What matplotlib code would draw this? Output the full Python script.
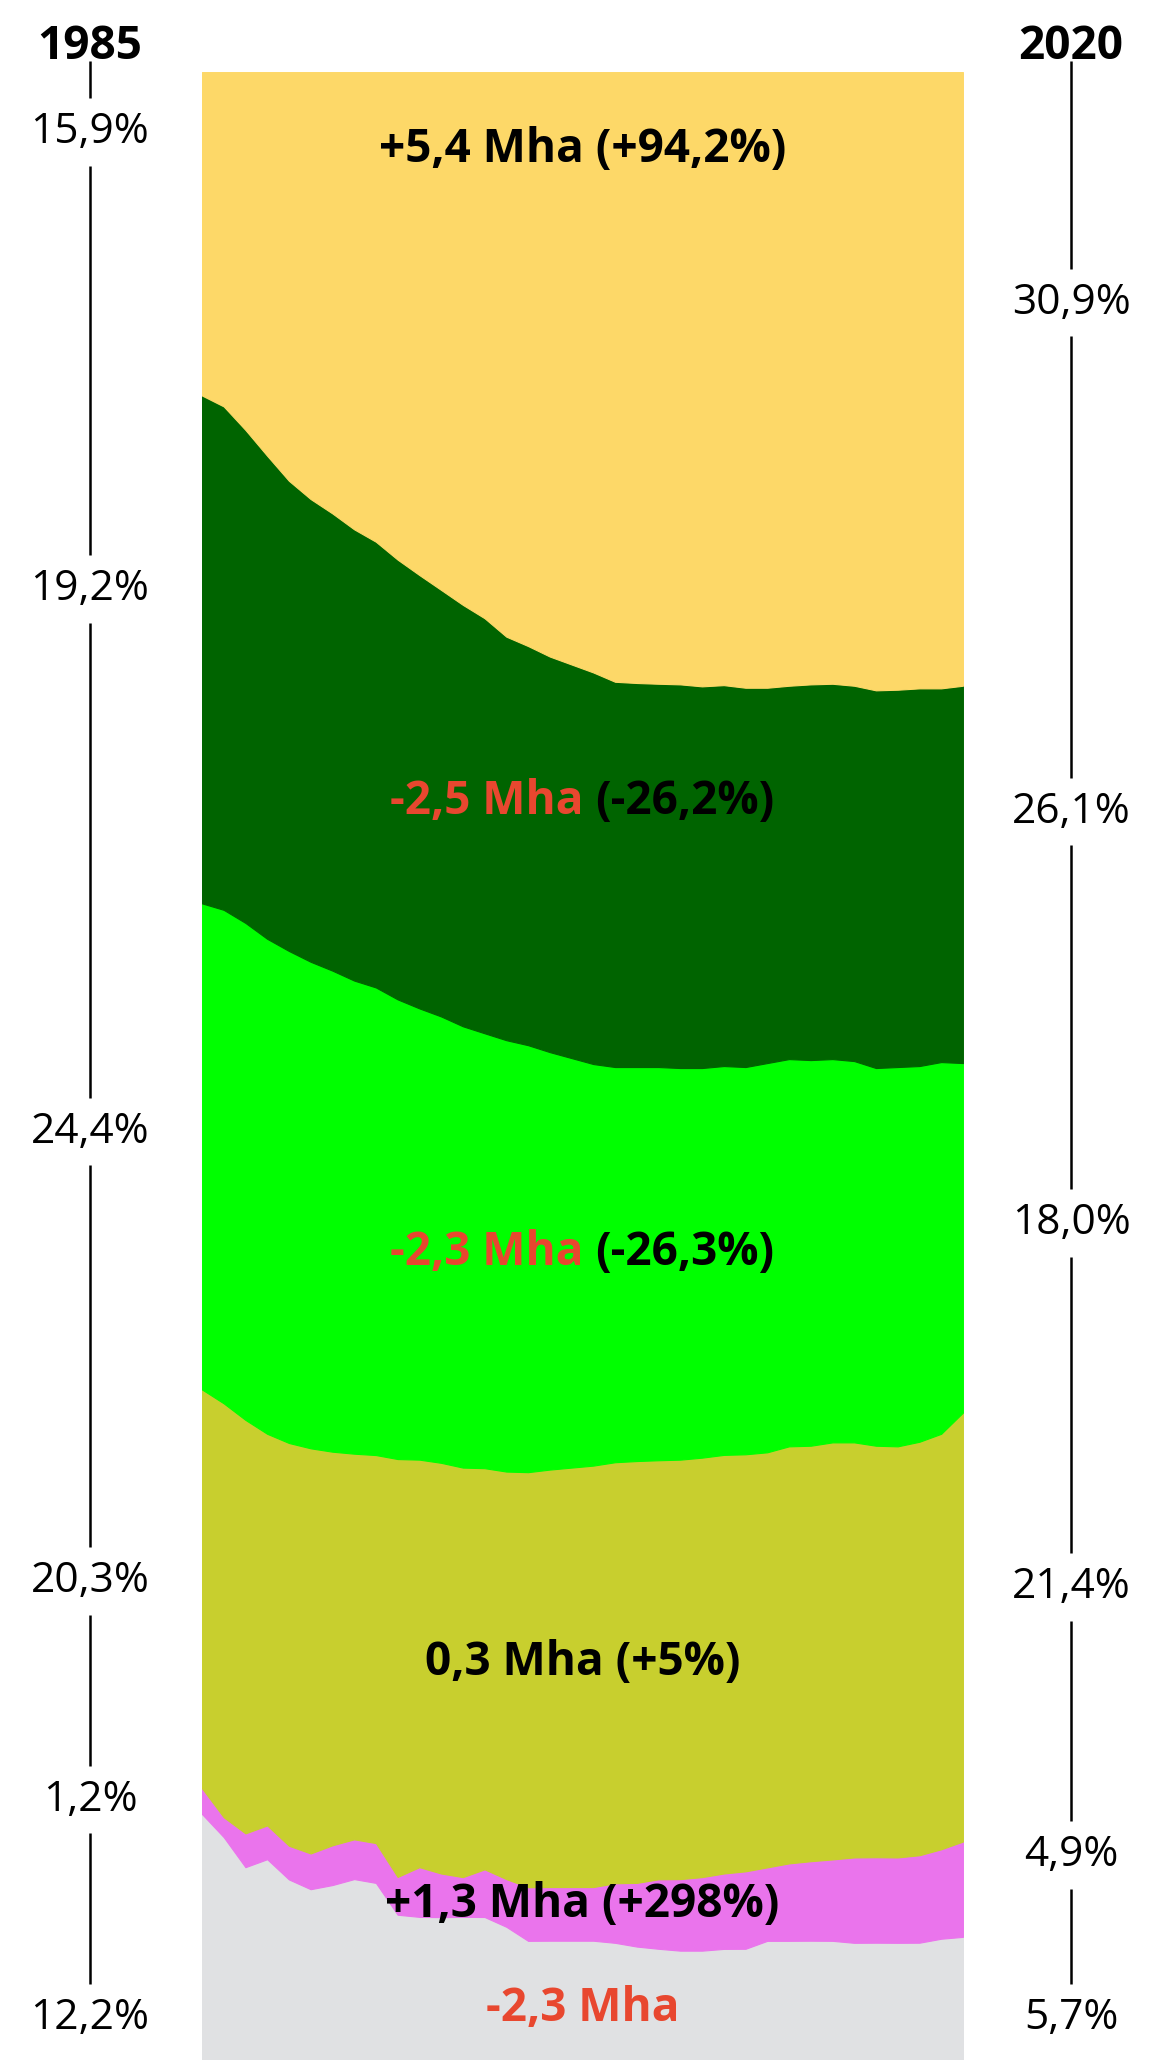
import numpy as np
import matplotlib
matplotlib.use('Agg')
import matplotlib.pyplot as plt
from matplotlib.transforms import blended_transform_factory

plt.rcParams['font.family'] = ['Open Sans', 'DejaVu Sans']

years = np.arange(1985, 2021)

# share of each class per year (%), bottom to top of the stack
gray_share = [12.4, 11.2, 9.7, 10.1, 9.1, 8.6, 8.8, 9.1, 8.9, 7.3, 7.2, 7.2, 7.2, 7.2, 6.7, 6.0, 6.0, 6.0,
              6.0, 5.9, 5.7, 5.6, 5.5, 5.5, 5.6, 5.6, 6.0, 6.0, 6.0, 6.0, 5.9, 5.9, 5.9, 5.9, 6.1, 6.2]
pink_share = [1.3, 1.0, 1.7, 1.7, 1.7, 1.8, 2.0, 2.0, 2.0, 1.9, 2.5, 2.2, 2.0, 2.4, 2.4, 2.7, 2.7, 2.7,
              2.7, 3.0, 3.2, 3.5, 3.6, 3.7, 3.8, 3.9, 3.7, 3.9, 4.0, 4.1, 4.3, 4.3, 4.3, 4.4, 4.5, 4.8]
olive_share = [20.1, 20.8, 20.8, 19.7, 20.3, 20.4, 19.8, 19.4, 19.5, 21.0, 20.5, 20.7, 20.6, 20.2, 20.5, 20.9, 21.0, 21.1,
               21.2, 21.2, 21.2, 21.1, 21.1, 21.1, 21.1, 21.0, 20.9, 21.0, 20.9, 21.0, 20.9, 20.7, 20.7, 20.8, 20.9, 21.6]
green_share = [24.5, 24.8, 25.0, 24.9, 24.8, 24.5, 24.2, 23.8, 23.5, 23.1, 22.7, 22.5, 22.2, 21.9, 21.7, 21.5, 21.0, 20.6,
               20.2, 19.9, 19.8, 19.8, 19.7, 19.6, 19.6, 19.5, 19.6, 19.5, 19.4, 19.3, 19.2, 19.0, 19.1, 18.9, 18.7, 17.6]
dark_green_share = [25.6, 25.3, 24.8, 24.3, 23.7, 23.3, 23.0, 22.7, 22.4, 22.1, 21.8, 21.5, 21.2, 20.9, 20.3, 20.1, 19.9, 19.8,
                    19.7, 19.4, 19.3, 19.3, 19.3, 19.2, 19.2, 19.1, 18.9, 18.8, 18.9, 18.9, 18.9, 19.0, 19.0, 19.0, 18.8, 19.0]
yellow_share = [16.3, 16.8, 18.0, 19.3, 20.6, 21.5, 22.2, 23.0, 23.6, 24.5, 25.3, 26.1, 26.8, 27.5, 28.4, 28.9, 29.4, 29.8,
                30.2, 30.7, 30.7, 30.8, 30.8, 30.9, 30.9, 31.0, 31.0, 30.9, 30.8, 30.8, 30.9, 31.1, 31.1, 31.0, 31.0, 30.9]

colors = ['#E0E1E3', '#EA74EC', '#C8CF2E', '#00FF00', '#006400', '#FDD868']
red = '#E8472F'

# side labels: (text, vertical position in % of the stack)
left_labels = [('15,9%', 97.0), ('19,2%', 74.0), ('24,4%', 46.7), ('20,3%', 24.1), ('1,2%', 13.1), ('12,2%', 2.1)]
right_labels = [('30,9%', 88.4), ('26,1%', 62.8), ('18,0%', 42.1), ('21,4%', 23.8), ('4,9%', 10.3), ('5,7%', 2.1)]

# labels inside the bands: (position, [(text, colour), ...])
band_labels = [
    (96.1, [('+5,4 Mha (+94,2%)', 'black')]),
    (63.3, [('-2,5 Mha', red), ('(-26,2%)', 'black')]),
    (40.6, [('-2,3 Mha', red), ('(-26,3%)', 'black')]),
    (20.0, [('0,3 Mha (+5%)', 'black')]),
    (7.8, [('+1,3 Mha (+298%)', 'black')]),
    (2.6, [('-2,3 Mha', red)]),
]

stack = np.array([gray_share, pink_share, olive_share, green_share, dark_green_share, yellow_share])
stack = stack / stack.sum(axis=0) * 100

fig = plt.figure(figsize=(11.7, 20.6), dpi=100)
ax = fig.add_axes([0.1726, 0.0, 0.6504, 0.965])
polys = ax.stackplot(years, stack, colors=colors)
for p in polys:
    p.set_edgecolor('face')
    p.set_linewidth(0.8)
ax.set_xlim(1985, 2020)
ax.set_ylim(0, 100)
ax.axis('off')

trans = blended_transform_factory(fig.transFigure, ax.transData)
gap = 1.7


def side_axis(xf, year, labels):
    ax.text(xf, 101.3, year, transform=trans, ha='center', va='center',
            fontsize=33, fontweight='bold', clip_on=False)
    tops = [100.55] + [y - gap for _, y in labels[:-1]]
    bottoms = [y + gap for _, y in labels]
    for t, b in zip(tops, bottoms):
        ax.plot([xf, xf], [t, b], transform=trans, color='black', lw=1.8,
                clip_on=False, solid_capstyle='butt')
    for s, y in labels:
        ax.text(xf, y, s, transform=trans, ha='center', va='center',
                fontsize=30.5, clip_on=False)


side_axis(0.0769, '1985', left_labels)
side_axis(0.9154, '2020', right_labels)

# centred labels, some in two colours
fig.canvas.draw()
renderer = fig.canvas.get_renderer()
ax_w = ax.get_window_extent(renderer).width
tr = blended_transform_factory(ax.transAxes, ax.transData)
space = 12
for y, parts in band_labels:
    texts = [ax.text(0, y, s, color=c, transform=tr, ha='left', va='center',
                     fontsize=33, fontweight='bold') for s, c in parts]
    widths = [t.get_window_extent(renderer).width for t in texts]
    total = sum(widths) + space * (len(widths) - 1)
    x = 0.5 - total / 2 / ax_w
    for t, w in zip(texts, widths):
        t.set_x(x)
        x += (w + space) / ax_w

fig.savefig('out.png', dpi=100)
